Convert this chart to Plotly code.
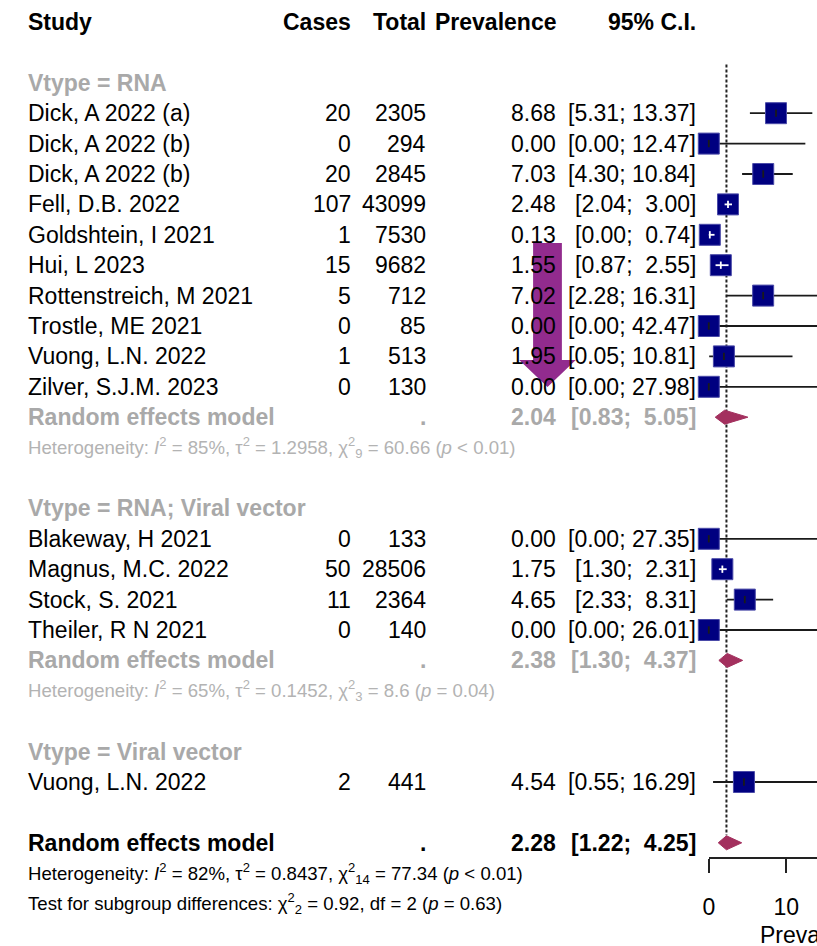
import plotly.graph_objects as go

# ---- data -------------------------------------------------------------
studies = ["Dick, A 2022 (a)", "Dick, A 2022 (b)", "Dick, A 2022 (b)", "Fell, D.B. 2022",
           "Goldshtein, I 2021", "Hui, L 2023", "Rottenstreich, M 2021", "Trostle, ME 2021",
           "Vuong, L.N. 2022", "Zilver, S.J.M. 2023",
           "Blakeway, H 2021", "Magnus, M.C. 2022", "Stock, S. 2021", "Theiler, R N 2021",
           "Vuong, L.N. 2022"]
vtype = ["RNA"] * 10 + ["RNA; Viral vector"] * 4 + ["Viral vector"]
cases = [20, 0, 20, 107, 1, 15, 5, 0, 1, 0, 0, 50, 11, 0, 2]
totals = [2305, 294, 2845, 43099, 7530, 9682, 712, 85, 513, 130, 133, 28506, 2364, 140, 441]
prev = [8.68, 0.00, 7.03, 2.48, 0.13, 1.55, 7.02, 0.00, 1.95, 0.00, 0.00, 1.75, 4.65, 0.00, 4.54]
lower = [5.31, 0.00, 4.30, 2.04, 0.00, 0.87, 2.28, 0.00, 0.05, 0.00, 0.00, 1.30, 2.33, 0.00, 0.55]
upper = [13.37, 12.47, 10.84, 3.00, 0.74, 2.55, 16.31, 42.47, 10.81, 27.98, 27.35, 2.31, 8.31, 26.01, 16.29]

groups = ["RNA", "RNA; Viral vector", "Viral vector"]
group_est = {"RNA": 2.04, "RNA; Viral vector": 2.38}
group_lo = {"RNA": 0.83, "RNA; Viral vector": 1.30}
group_hi = {"RNA": 5.05, "RNA; Viral vector": 4.37}
# heterogeneity statistics: (I2, tau2, chi-square df, chi-square, p text)
group_het = {
    "RNA": ("85%", "1.2958", "9", "60.66", "&lt; 0.01"),
    "RNA; Viral vector": ("65%", "0.1452", "3", "8.6", "= 0.04"),
}
overall_est, overall_lo, overall_hi = 2.28, 1.22, 4.25
overall_het = ("82%", "0.8437", "14", "77.34", "&lt; 0.01")
subgroup_test = ("2", "0.92", "2", "= 0.63")   # chi-square df, chi-square, df, p text
axis_ticks = [0, 10]
axis_label = "Prevalence"

# ---- layout constants ---------------------------------------------------
W, H = 817, 946
X0_PX, PX_PER_UNIT = 708, 7.8          # forest panel: pixel of 0, pixels per unit
ROW0_PX, ROW_PX = 22, 30.4              # first row centre, row pitch
FONT = "Arial, Liberation Sans, sans-serif"
BLACK = "#000000"
GREY = "#a9a9a9"
GREY_LIGHT = "#b3b3b3"
NAVY = "#000080"
DIAMOND = "#a3305e"
SQ = 21                                 # square side, px
BIG, SMALL = 23, 18.6

col_study, col_cases, col_total, col_prev, col_ci = 20, 350, 425, 556, 697

xrange = [-X0_PX / PX_PER_UNIT, (W - X0_PX) / PX_PER_UNIT]
yrange = [(H - ROW0_PX) / ROW_PX, -ROW0_PX / ROW_PX]


def fmt_ci(lo, hi):
    return "[%.2f; %s]" % (lo, ("%5.2f" % hi).replace(" ", "\u00a0"))


def chi2(df):
    return "\u03c7<sup>2</sup><sub>%s</sub>" % df


def het_text(stats):
    i2, t2, df, chi, p = stats
    return ("Heterogeneity: <i>I</i><sup>2</sup> = %s, \u03c4<sup>2</sup> = %s, %s = %s (<i>p</i> %s)"
            % (i2, t2, chi2(df), chi, p))


annotations = []


def text(xpx, row, s, anchor="left", size=BIG, color=BLACK, bold=False):
    if bold:
        s = "<b>" + s + "</b>"
    annotations.append(dict(x=xpx / W, y=row, xref="paper", yref="y", text=s,
                            xanchor=anchor, yanchor="middle", showarrow=False,
                            font=dict(family=FONT, size=size, color=color)))


# header
text(col_study, 0, "Study", bold=True)
text(col_cases, 0, "Cases", "right", bold=True)
text(col_total, 0, "Total", "right", bold=True)
text(col_prev, 0, "Prevalence", "right", bold=True)
text(col_ci, 0, "95% C.I.", "right", bold=True)

# assign rows
row = 2
study_rows = []
pooled = []   # (row, est, lo, hi)
for g in groups:
    text(col_study, row, "Vtype = " + g, color=GREY, bold=True)
    row += 1
    for i, v in enumerate(vtype):
        if v != g:
            continue
        study_rows.append((i, row))
        text(col_study, row, studies[i])
        text(col_cases, row, str(cases[i]), "right")
        text(col_total, row, str(totals[i]), "right")
        text(col_prev, row, "%.2f" % prev[i], "right")
        text(col_ci, row, fmt_ci(lower[i], upper[i]), "right")
        row += 1
    if g in group_est:
        text(col_study, row, "Random effects model", color=GREY, bold=True)
        text(col_total, row, ".", "right", color=GREY, bold=True)
        text(col_prev, row, "%.2f" % group_est[g], "right", color=GREY, bold=True)
        text(col_ci, row, fmt_ci(group_lo[g], group_hi[g]), "right", color=GREY, bold=True)
        pooled.append((row, group_est[g], group_lo[g], group_hi[g]))
        row += 1
        text(col_study, row, het_text(group_het[g]), size=SMALL, color=GREY_LIGHT)
        row += 1
    row += 1

overall_row = row
text(col_study, row, "Random effects model", bold=True)
text(col_total, row, ".", "right", bold=True)
text(col_prev, row, "%.2f" % overall_est, "right", bold=True)
text(col_ci, row, fmt_ci(overall_lo, overall_hi), "right", bold=True)
pooled.append((row, overall_est, overall_lo, overall_hi))
text(col_study, row + 1, het_text(overall_het), size=SMALL)
sdf, schi, sdf2, sp = subgroup_test
text(col_study, row + 2, "Test for subgroup differences: %s = %s, df = %s (<i>p</i> %s)"
     % (chi2(sdf), schi, sdf2, sp), size=SMALL)

fig = go.Figure()

# reference line at the overall estimate
fig.add_trace(go.Scatter(x=[overall_est, overall_est], y=[1.4, overall_row - 0.25], mode="lines",
                         line=dict(color="#222222", width=2, dash="3px,2px"),
                         hoverinfo="skip", showlegend=False))

# confidence intervals (black where they stick out of the square, white inside it)
half = SQ / 2 / PX_PER_UNIT
tick = 0.12
bx, by, wx, wy = [], [], [], []
tx, ty = [], []
for i, r in study_rows:
    inside = lower[i] >= prev[i] - half and upper[i] <= prev[i] + half
    if inside:
        wx += [lower[i], upper[i], None, prev[i], prev[i], None]
        wy += [r, r, None, r - tick, r + tick, None]
    else:
        bx += [lower[i], upper[i], None]
        by += [r, r, None]
        tx += [prev[i], prev[i], None]
        ty += [r - tick, r + tick, None]

fig.add_trace(go.Scatter(x=bx, y=by, mode="lines", line=dict(color="#1a1a1a", width=1.8),
                         hoverinfo="skip", showlegend=False))

# study squares
fig.add_trace(go.Scatter(x=[prev[i] for i, r in study_rows], y=[r for i, r in study_rows],
                         mode="markers",
                         marker=dict(symbol="square", size=SQ, color=NAVY,
                                     line=dict(color="#4a4aa8", width=1)),
                         cliponaxis=False, hoverinfo="skip", showlegend=False))

fig.add_trace(go.Scatter(x=tx, y=ty, mode="lines", line=dict(color="#1a1a1a", width=1.8),
                         hoverinfo="skip", showlegend=False))
fig.add_trace(go.Scatter(x=wx, y=wy, mode="lines", line=dict(color="white", width=1.8),
                         hoverinfo="skip", showlegend=False))

# pooled diamonds
dh = 0.23
for r, e, lo, hi in pooled:
    fig.add_trace(go.Scatter(x=[lo, e, hi, e, lo], y=[r, r - dh, r, r + dh, r],
                             mode="lines", fill="toself", fillcolor=DIAMOND,
                             line=dict(color=DIAMOND, width=1),
                             hoverinfo="skip", showlegend=False))

# x axis of the forest panel
fig.add_trace(go.Scatter(x=[], y=[], xaxis="x2", yaxis="y", showlegend=False))

annotations.append(dict(x=1.0, y=yrange[0] - 0.36, xref="paper", yref="y", text=axis_label,
                        xanchor="center", yanchor="middle", showarrow=False,
                        font=dict(family=FONT, size=BIG, color=BLACK)))


# highlight arrow
def P(xp, yp):
    return "%.5f,%.5f" % (xp / W, 1 - yp / H)


arrow = "M " + " L ".join([P(531, 243), P(560, 243), P(560, 360), P(574, 360),
                           P(545.5, 387), P(517, 360), P(531, 360)]) + " Z"

fig.update_layout(
    width=W, height=H, margin=dict(l=0, r=0, t=0, b=0),
    paper_bgcolor="white", plot_bgcolor="rgba(0,0,0,0)",
    xaxis=dict(range=xrange, visible=False, fixedrange=True),
    yaxis=dict(range=yrange, visible=False, fixedrange=True),
    xaxis2=dict(domain=[X0_PX / W, 1], range=[0, (W - X0_PX) / PX_PER_UNIT],
                anchor="free", position=1 - 858 / H, showline=True, linecolor="#222222",
                linewidth=2, ticks="outside", ticklen=14, tickwidth=2, tickcolor="#222222",
                tickvals=axis_ticks, showgrid=False, zeroline=False, ticklabelstandoff=14,
                tickfont=dict(family=FONT, size=BIG, color=BLACK), fixedrange=True),
    annotations=annotations,
    shapes=[dict(type="path", path=arrow, xref="paper", yref="paper",
                 fillcolor="#922b8e", line=dict(width=0), layer="above")],
    showlegend=False,
)

fig.write_html("out.html")
